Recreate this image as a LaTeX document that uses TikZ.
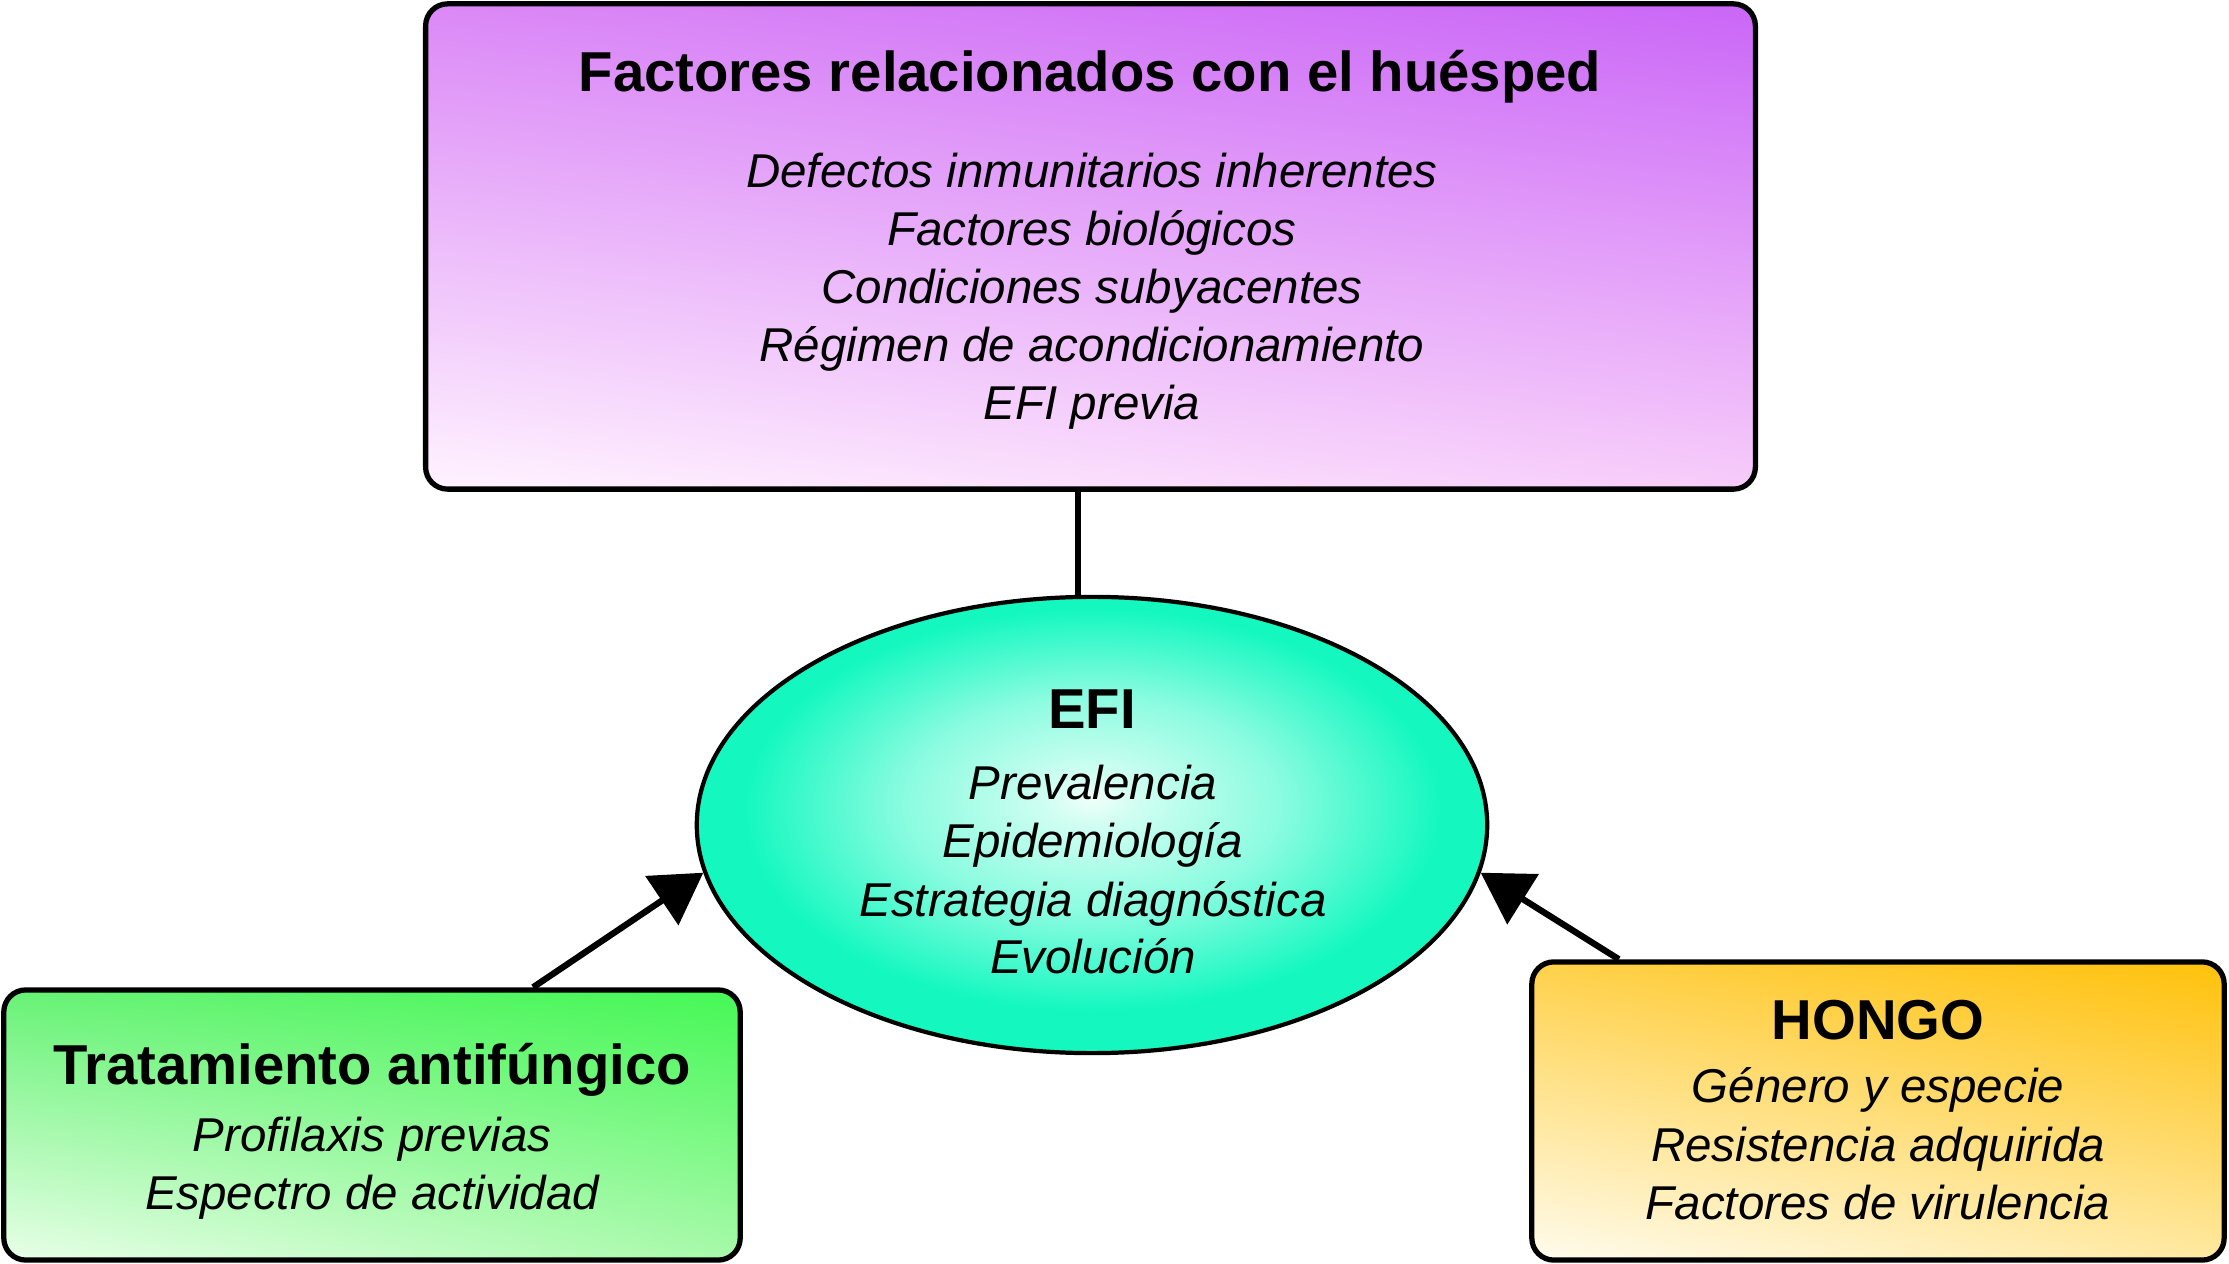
\documentclass[tikz,border=0pt]{standalone}
\usepackage{fontspec}
\setmainfont{Liberation Sans}
\usetikzlibrary{arrows.meta,shapes.geometric,shadings}

\definecolor{hostdark}{HTML}{CA66F7}
\definecolor{hostmid}{HTML}{DB88F6}
\definecolor{hostlow}{HTML}{F7CCFA}
\definecolor{hostpale}{HTML}{FFF3FF}
\definecolor{treatdark}{HTML}{45F855}
\definecolor{treatmid}{HTML}{68F276}
\definecolor{treatlow}{HTML}{A8F9AA}
\definecolor{treatpale}{HTML}{E8FFE8}
\definecolor{fungdark}{HTML}{FFC10A}
\definecolor{fungmid}{HTML}{FFD14A}
\definecolor{funglow}{HTML}{FFE8A0}
\definecolor{fungpale}{HTML}{FFFCEE}
\definecolor{efiin}{HTML}{F0FFFA}
\definecolor{efiout}{HTML}{14F8C0}

\pgfdeclareradialshading{efiglow}{\pgfpoint{0bp}{3bp}}{%
  color(0bp)=(efiin); color(3bp)=(efiin!85!efiout);
  color(12bp)=(efiout!50!white); color(22bp)=(efiout); color(50bp)=(efiout)}

\tikzset{
  box/.style={draw=black, line width=1.5pt, rounded corners=0.22cm, inner sep=0pt},
  hdr/.style={font=\fontsize{16}{19}\selectfont\bfseries, anchor=base, inner sep=0pt},
  item/.style={font=\fontsize{13.5}{16}\selectfont\itshape, anchor=base, inner sep=0pt},
  link/.style={draw=black, line width=1.8pt},
  arrow/.style={link, -{Triangle[length=0.5cm, width=0.58cm]}}
}

\begin{document}
\begin{tikzpicture}[x=0.01cm,y=-0.01cm]
\fill[white] (0,0) rectangle (2229,1264);
\useasboundingbox (0,0) rectangle (2229,1264);
% boxes
\node[box, minimum width=13.29cm, minimum height=4.85cm,
  upper left=hostmid, upper right=hostdark, lower left=hostpale, lower right=hostlow]
  (host) at (1090.5,246.5) {};
\node[box, minimum width=7.36cm, minimum height=2.70cm,
  upper left=treatmid, upper right=treatdark, lower left=treatpale, lower right=treatlow]
  (treat) at (372,1125) {};
\node[box, minimum width=6.92cm, minimum height=2.98cm,
  upper left=fungmid, upper right=fungdark, lower left=fungpale, lower right=funglow]
  (fung) at (1878,1111) {};
\node[ellipse, draw=black, line width=1.2pt, shading=efiglow, inner sep=0pt,
  minimum width=7.9cm, minimum height=4.56cm] (efi) at (1092,825) {};
% host
\node[hdr] (hosttitle) at (1090,92) {Factores relacionados con el huésped};
\foreach \t [count=\i] in {Defectos inmunitarios inherentes, Factores biológicos,
  Condiciones subyacentes, Régimen de acondicionamiento, EFI previa}
  \node[item] (host\i) at (1092,130+58*\i) {\t};
% efi
\node[hdr] (efititle) at (1092,729) {EFI};
\foreach \t [count=\i] in {Prevalencia, Epidemiología, Estrategia diagnóstica, Evolución}
  \node[item] (efi\i) at (1093,742+58*\i) {\t};
% treatment
\node[hdr] (treattitle) at (372,1084) {Tratamiento antifúngico};
\foreach \t [count=\i] in {Profilaxis previas, Espectro de actividad}
  \node[item] (treat\i) at (372,1093+58*\i) {\t};
% fungus
\node[hdr] (fungtitle) at (1878,1040) {HONGO};
\foreach \t [count=\i] in {Género y especie, Resistencia adquirida, Factores de virulencia}
  \node[item] (fung\i) at (1878,1045+58*\i) {\t};
% connectors
\coordinate (stem) at (1078,490);
\draw[link] (stem) -- (stem |- efi.north);
\draw[arrow] ([xshift=1.61cm]treat.north) -- (efi.187);
\draw[arrow] ([xshift=-2.59cm]fung.north) -- (efi.353);
\end{tikzpicture}
\end{document}
